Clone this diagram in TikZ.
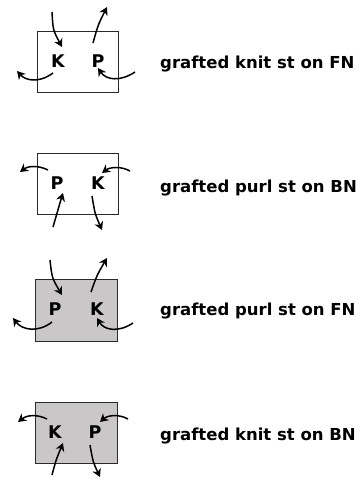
\documentclass[tikz,border=0pt]{standalone}
\usepackage{fontspec}
\setmainfont{DejaVu Sans}
\usepackage{xcolor}
\usepackage{tikz}
\usetikzlibrary{arrows.meta, positioning}

\definecolor{boxgray}{HTML}{C9C7C7}
\definecolor{lineclr}{HTML}{2A2A2A}

\begin{document}
\begin{tikzpicture}[x=1pt,y=-1pt]
\tikzstyle{stbox}=[draw=lineclr,line width=0.8pt]
\tikzstyle{stlabel}=[font=\fontsize{17.5}{18}\selectfont\bfseries,inner sep=0pt]
\tikzstyle{caption}=[font=\fontsize{16.5}{17}\selectfont\bfseries,anchor=west,inner sep=0pt]
\tikzstyle{yarn}=[line width=1.5pt,-{Stealth[length=8pt,width=9pt,inset=2.5pt]}]

\useasboundingbox (0,0) rectangle (362,479);

% grafted knit st on FN
\draw[stbox] (37,31) rectangle (118,92);
\node[stlabel] (k1) at (58,61) {K};
\node[stlabel] (p1) at (98,61) {P};
\coordinate (k1in) at (52,12);
\coordinate (k1end) at (62,47);
\coordinate (p1out) at (93,43);
\coordinate (p1end) at (107,7);
\coordinate (k1l) at (53,73);
\coordinate (k1lend) at (17,71);
\coordinate (p1r) at (135,72);
\coordinate (p1rend) at (98,68);
\draw[yarn] (k1in) .. controls (53,30) .. (k1end);
\draw[yarn] (p1out) .. controls (98,25) .. (p1end);
\draw[yarn] (k1l) .. controls (38,84) and (25,80) .. (k1lend);
\draw[yarn] (p1r) .. controls (120,82) and (106,80) .. (p1rend);
\node[caption] (c1) at (160,64) {grafted knit st on FN};

% grafted purl st on BN
\draw[stbox] (37,153) rectangle (118,214);
\node[stlabel] (p2) at (57,183) {P};
\node[stlabel] (k2) at (98,183) {K};
\coordinate (p2l) at (48,170);
\coordinate (p2lend) at (20,172);
\coordinate (k2r) at (130,171);
\coordinate (k2rend) at (102,173);
\coordinate (p2in) at (53,227);
\coordinate (p2end) at (63,193);
\coordinate (k2out) at (92,196);
\coordinate (k2end) at (102,230);
\draw[yarn] (p2l) .. controls (38,165) and (28,166) .. (p2lend);
\draw[yarn] (k2r) .. controls (121,166) and (110,167) .. (k2rend);
\draw[yarn] (p2in) .. controls (57,212) .. (p2end);
\draw[yarn] (k2out) .. controls (95,214) .. (k2end);
\node[caption] (c2) at (160,188) {grafted purl st on BN};

% grafted purl st on FN
\draw[stbox,fill=boxgray] (35,279) rectangle (117,341);
\node[stlabel] (p3) at (55,309) {P};
\node[stlabel] (k3) at (97,309) {K};
\coordinate (p3in) at (50,260);
\coordinate (p3end) at (62,295);
\coordinate (k3out) at (91,292);
\coordinate (k3end) at (107,258);
\coordinate (p3l) at (52,322);
\coordinate (p3lend) at (13,318);
\coordinate (k3r) at (133,323);
\coordinate (k3rend) at (97,318);
\draw[yarn] (p3in) .. controls (52,278) .. (p3end);
\draw[yarn] (k3out) .. controls (97,275) .. (k3end);
\draw[yarn] (p3l) .. controls (38,333) and (22,330) .. (p3lend);
\draw[yarn] (k3r) .. controls (118,333) and (104,330) .. (k3rend);
\node[caption] (c3) at (160,311) {grafted purl st on FN};

% grafted knit st on BN
\draw[stbox,fill=boxgray] (35,402) rectangle (117,463);
\node[stlabel] (k4) at (55,432) {K};
\node[stlabel] (p4) at (95,432) {P};
\coordinate (k4l) at (47,419);
\coordinate (k4lend) at (18,422);
\coordinate (p4r) at (128,419);
\coordinate (p4rend) at (100,422);
\coordinate (k4in) at (52,475);
\coordinate (k4end) at (63,443);
\coordinate (p4out) at (90,445);
\coordinate (p4end) at (100,477);
\draw[yarn] (k4l) .. controls (37,414) and (27,415) .. (k4lend);
\draw[yarn] (p4r) .. controls (119,414) and (108,415) .. (p4rend);
\draw[yarn] (k4in) .. controls (56,460) .. (k4end);
\draw[yarn] (p4out) .. controls (93,462) .. (p4end);
\node[caption] (c4) at (160,436) {grafted knit st on BN};

\end{tikzpicture}
\end{document}
